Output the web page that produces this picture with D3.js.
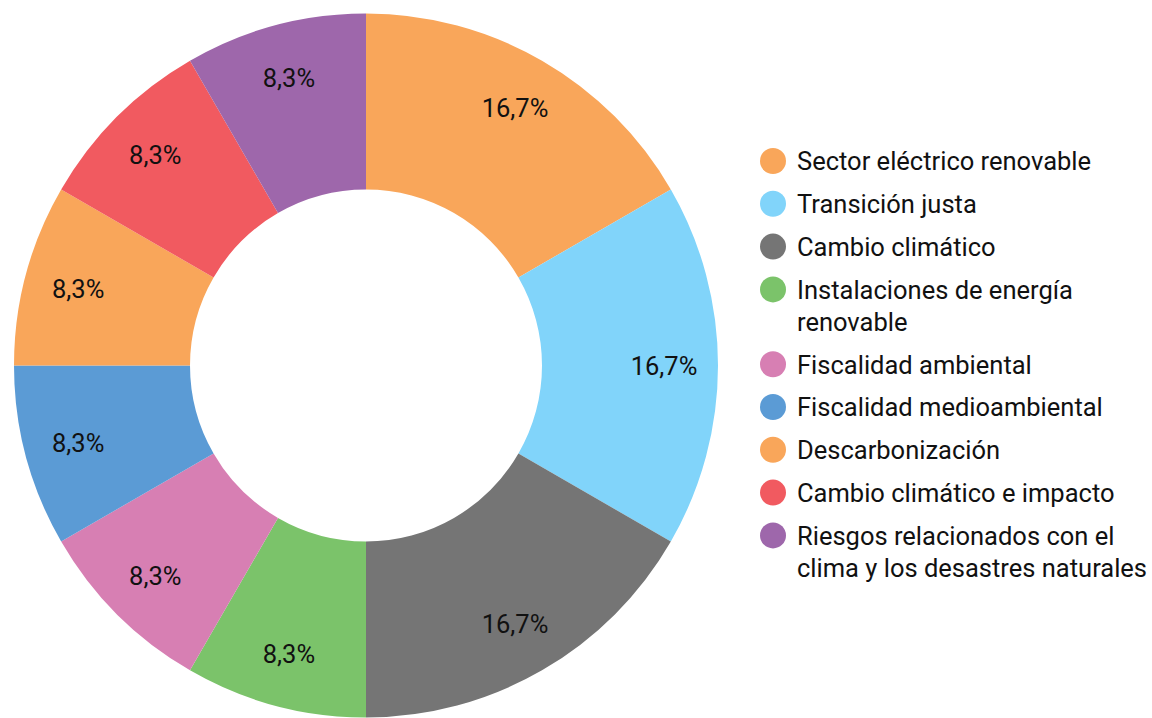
<!DOCTYPE html>
<html>
<head>
<meta charset="utf-8">
<script src="https://cdn.jsdelivr.net/npm/d3@7"></script>
<style>
  body { margin: 0; background: #fff; }
  svg { font-family: Roboto, "Noto Sans", sans-serif; }
</style>
</head>
<body>
<div id="chart"></div>
<script>
// chart data
const categories = [
  'Sector eléctrico renovable',
  'Transición justa',
  'Cambio climático',
  'Instalaciones de energía renovable',
  'Fiscalidad ambiental',
  'Fiscalidad medioambiental',
  'Descarbonización',
  'Cambio climático e impacto',
  'Riesgos relacionados con el clima y los desastres naturales'
];
const values = [2, 2, 2, 1, 1, 1, 1, 1, 1];
const colors = ['#f9a65a', '#81d4fa', '#757575', '#7bc36a', '#d77fb3', '#5b9bd5', '#f9a65a', '#f15a60', '#9e67ab'];
// legend lines (long names wrap onto two lines)
const legendLines = [
  ['Sector eléctrico renovable'],
  ['Transición justa'],
  ['Cambio climático'],
  ['Instalaciones de energía', 'renovable'],
  ['Fiscalidad ambiental'],
  ['Fiscalidad medioambiental'],
  ['Descarbonización'],
  ['Cambio climático e impacto'],
  ['Riesgos relacionados con el', 'clima y los desastres naturales']
];

const width = 1152, height = 718;
const cx = 366, cy = 365.5;
const outerR = 352, innerR = 176, labelR = 298;

const svg = d3.select('#chart').append('svg')
  .attr('width', width)
  .attr('height', height);

const total = d3.sum(values);
const fmt = v => (v / total * 100).toFixed(1).replace('.', ',') + '%';

const pie = d3.pie().sort(null).value(d => d.value);
const data = pie(categories.map((c, i) => ({ name: c, value: values[i], color: colors[i] })));

const arc = d3.arc().innerRadius(innerR).outerRadius(outerR);
const labelArc = d3.arc().innerRadius(labelR).outerRadius(labelR);

const g = svg.append('g').attr('transform', `translate(${cx},${cy})`);

g.selectAll('path')
  .data(data)
  .enter()
  .append('path')
  .attr('d', arc)
  .attr('fill', d => d.data.color);

g.selectAll('text')
  .data(data)
  .enter()
  .append('text')
  .attr('transform', d => `translate(${labelArc.centroid(d)})`)
  .attr('text-anchor', 'middle')
  .attr('dy', '0.36em')
  .style('font-size', '25.5px')
  .style('fill', '#111')
  .text(d => fmt(d.data.value));

// legend
const legend = svg.append('g').attr('transform', 'translate(773,0)');
let y = 161;
legendLines.forEach((lines, i) => {
  const row = legend.append('g').attr('transform', `translate(0,${y})`);
  row.append('circle').attr('r', 13).attr('fill', colors[i]);
  lines.forEach((line, j) => {
    row.append('text')
      .attr('x', 24)
      .attr('y', j * 32)
      .attr('dy', '0.37em')
      .style('font-size', '25.5px')
      .style('fill', '#111')
      .text(line);
  });
  y += 42.8 + (lines.length - 1) * 32;
});
</script>
</body>
</html>
